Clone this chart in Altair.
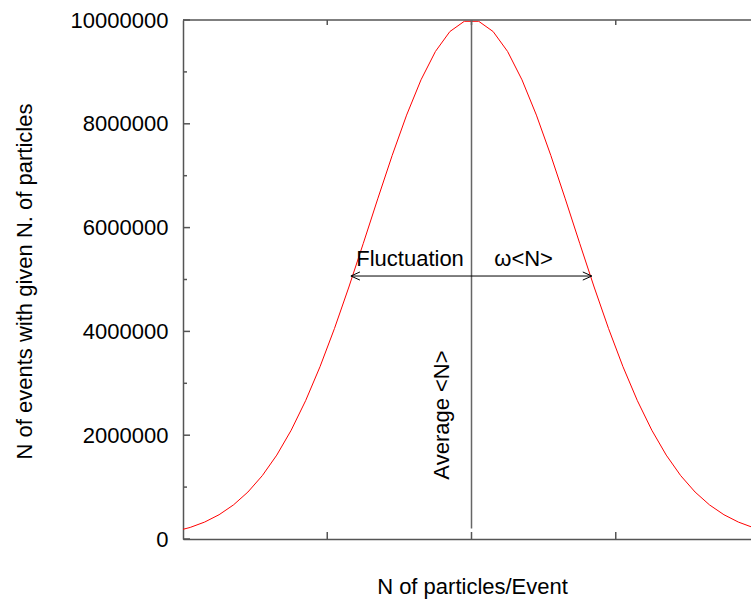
import altair as alt
import pandas as pd

FONT = "Liberation Sans"
AXIS_COLOR = "#555555"

# Curve samples
x_vals = [-0.05, 0.05, 0.15, 0.25, 0.35, 0.45, 0.55, 0.65, 0.75, 0.85, 0.95,
          1.05, 1.15, 1.25, 1.35, 1.45, 1.55, 1.65, 1.75, 1.85, 1.95,
          2.05, 2.15, 2.25, 2.35, 2.45, 2.55, 2.65, 2.75, 2.85, 2.95,
          3.05, 3.15, 3.25, 3.35, 3.45, 3.55, 3.65, 3.75, 3.85, 3.95, 4.05]
y_vals = [149600, 223100, 326300, 467700, 657000, 904900, 1221500, 1616200,
          2096100, 2664700, 3320400, 4055500, 4855400, 5697800, 6554100,
          7389700, 8166900, 8847100, 9394100, 9777500, 9975000,
          9975000, 9777500, 9394100, 8847100, 8166900, 7389700, 6554100,
          5697800, 4855400, 4055500, 3320400, 2664700, 2096100, 1616200,
          1221500, 904900, 657000, 467700, 326300, 223100, 149600]

x_domain = [0, 3.9376]
y_domain = [0, 10000000]
x_ticks = [1, 2, 3]
y_major = [0, 2000000, 4000000, 6000000, 8000000, 10000000]
y_minor = [1000000, 3000000, 5000000, 7000000, 9000000]

# Annotations
avg_x = [2.0, 2.0]
avg_y = [200000, 10000000]
arrow_x = [1.164, 2.834]
arrow_y = [5067000, 5067000]
label_text = ["Fluctuation", "\u03c9<N>"]
label_x = [1.574, 2.361]
label_y = [5260000, 5260000]
avg_label = ["Average <N>"]
avg_label_x = [1.844]
avg_label_y = [2389000]

curve_df = pd.DataFrame({"x": x_vals, "y": y_vals})
xs = alt.Scale(domain=x_domain, nice=False, zero=False)
ys = alt.Scale(domain=y_domain, nice=False)

X = lambda: alt.X("x:Q", scale=xs)
Y = lambda: alt.Y("y:Q", scale=ys)

curve = alt.Chart(curve_df).mark_line(color="#ff0000", strokeWidth=1, clip=True).encode(
    x=alt.X("x:Q", scale=xs,
            axis=alt.Axis(values=[0, 1, 2, 3], labels=False, ticks=False, grid=False,
                          domainColor=AXIS_COLOR, domainWidth=1.5,
                          title="N of particles/Event", titleFont=FONT, titleFontSize=22,
                          titleFontWeight="normal", titleColor="#000000",
                          titleX=289, titleY=54, titleAlign="center",
                          titleBaseline="alphabetic")),
    y=alt.Y("y:Q", scale=ys,
            axis=alt.Axis(values=y_major, format="d", ticks=False, grid=False,
                          labelFont=FONT, labelFontSize=22, labelColor="#000000",
                          labelPadding=15, labelFlush=False, labelOverlap=False,
                          domainColor=AXIS_COLOR, domainWidth=1.5,
                          title="N of events with given N. of particles",
                          titleFont=FONT, titleFontSize=22, titleFontWeight="normal",
                          titleColor="#000000", titleAngle=270, titleX=-152, titleY=261,
                          titleAlign="center", titleBaseline="alphabetic")),
)

# Top border
top_df = pd.DataFrame({"y": [y_domain[1]]})
top = alt.Chart(top_df).mark_rule(color=AXIS_COLOR, strokeWidth=1.5).encode(
    y=Y(), x=alt.value(0), x2=alt.value(568))

# Tick marks (inward)
ymaj_df = pd.DataFrame({"y": y_major})
ymin_df = pd.DataFrame({"y": y_minor})
xt_df = pd.DataFrame({"x": x_ticks})
t_ymaj = alt.Chart(ymaj_df).mark_rule(color=AXIS_COLOR, strokeWidth=1.5).encode(
    y=Y(), x=alt.value(0), x2=alt.value(7))
t_ymin = alt.Chart(ymin_df).mark_rule(color=AXIS_COLOR, strokeWidth=1.5).encode(
    y=Y(), x=alt.value(0), x2=alt.value(4))
t_xbot = alt.Chart(xt_df).mark_rule(color=AXIS_COLOR, strokeWidth=1.5).encode(
    x=X(), y=alt.value(519), y2=alt.value(512))
t_xtop = alt.Chart(xt_df).mark_rule(color=AXIS_COLOR, strokeWidth=1.5).encode(
    x=X(), y=alt.value(0), y2=alt.value(5))

# Average vertical line
avg_df = pd.DataFrame({"x": avg_x, "y": avg_y})
avg_line = alt.Chart(avg_df).mark_line(color="#666666", strokeWidth=1.5).encode(x=X(), y=Y())

# Fluctuation arrow
arr_df = pd.DataFrame({"x": arrow_x, "y": arrow_y})
arr_line = alt.Chart(arr_df).mark_line(color="#000000", strokeWidth=1).encode(x=X(), y=Y())
left_tip = alt.Chart(arr_df.iloc[[0]]).mark_point(
    shape="M1,-0.45L0,0L1,0.45", size=324, filled=False, color="#000000", strokeWidth=1, opacity=1
).encode(x=X(), y=Y())
right_tip = alt.Chart(arr_df.iloc[[1]]).mark_point(
    shape="M-1,-0.45L0,0L-1,0.45", size=324, filled=False, color="#000000", strokeWidth=1, opacity=1
).encode(x=X(), y=Y())

lab_df = pd.DataFrame({"t": label_text, "x": label_x, "y": label_y})
labels = alt.Chart(lab_df).mark_text(font=FONT, fontSize=22, color="#000000",
                                     align="center", baseline="alphabetic").encode(
    x=X(), y=Y(), text="t:N")

avg_lab_df = pd.DataFrame({"t": avg_label, "x": avg_label_x, "y": avg_label_y})
avg_lab = alt.Chart(avg_lab_df).mark_text(font=FONT, fontSize=22, color="#000000",
                                          align="center", baseline="alphabetic", angle=270).encode(
    x=X(), y=Y(), text="t:N")

chart = alt.layer(
    curve, top, t_ymaj, t_ymin, t_xbot, t_xtop, avg_line, arr_line, left_tip, right_tip,
    labels, avg_lab
).properties(
    width=568, height=519,
    autosize=alt.AutoSizeParams(type="none"),
    padding={"left": 183, "top": 20, "right": 0, "bottom": 60},
    background="#ffffff",
).configure_view(stroke=None)

chart.save("out.html", embed_options={"renderer": "svg", "actions": False})
